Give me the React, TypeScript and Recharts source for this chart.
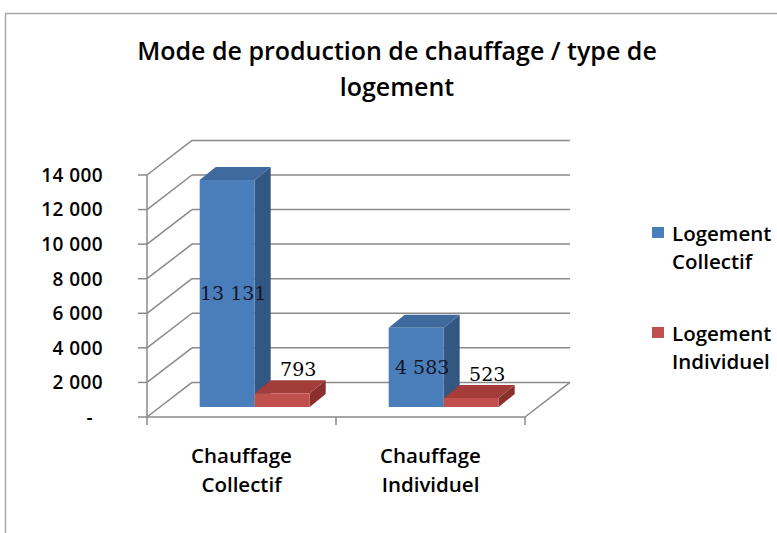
import React from 'react';
import { BarChart, Bar, XAxis, YAxis, CartesianGrid, Legend, LabelList } from 'recharts';

// ---------- data ----------
const categories = ['Chauffage Collectif', 'Chauffage Individuel'];
const categoryLines = [
  ['Chauffage', 'Collectif'],
  ['Chauffage', 'Individuel'],
];
const seriesNames = ['Logement Collectif', 'Logement Individuel'];
const seriesLegendLines = [
  ['Logement', 'Collectif'],
  ['Logement', 'Individuel'],
];
const logementCollectif = [13131, 4583];
const logementIndividuel = [793, 523];
const yTicks = [0, 2000, 4000, 6000, 8000, 10000, 12000, 14000];
const yTickLabels = ['-', '2 000', '4 000', '6 000', '8 000', '10 000', '12 000', '14 000'];
const titleLines = ['Mode de production de chauffage / type de', 'logement'];

const data = categories.map((c, i) => ({
  category: c,
  collectif: logementCollectif[i],
  individuel: logementIndividuel[i],
}));

// ---------- layout / style ----------
const W = 777;
const H = 533;
const Y_AXIS_W = 100;
const X_AXIS_H = 30;
const MARGIN = { top: 175, right: 252, bottom: 116 - X_AXIS_H, left: 147 - Y_AXIS_W };
const DEPTH_X = 45;
const DEPTH_Y = 34.6;
const BAR_SHIFT_X = 13;
const BAR_SHIFT_Y = 10;
const BAR_DEPTH_X = 16;
const BAR_DEPTH_Y = 13;
const GRID = '#8a8a8a';
const SANS = '"Open Sans", Lato, sans-serif';
const SERIF = '"DejaVu Serif", "Liberation Serif", serif';
const TEXT_WEIGHT = 600;

const COLORS = [
  { front: '#4A7EBB', top: '#3E6A9E', side: '#335783' },
  { front: '#C0504D', top: '#A33D3A', side: '#8A2F2C' },
];

const fmt = (n: number) => String(n).replace(/\B(?=(\d{3})+(?!\d))/g, ' ');

const make3DBar = (c: { front: string; top: string; side: string }) => (props: any) => {
  const { x, y, width, height } = props;
  if (x == null || y == null || !width || height == null) return <g />;
  const fx = x + BAR_SHIFT_X;
  const fy = y - BAR_SHIFT_Y;
  const h = height;
  const dx = BAR_DEPTH_X;
  const dy = BAR_DEPTH_Y;
  return (
    <g>
      <polygon
        points={`${fx + width},${fy} ${fx + width + dx},${fy - dy} ${fx + width + dx},${fy + h - dy} ${fx + width},${fy + h}`}
        fill={c.side}
      />
      <polygon
        points={`${fx},${fy} ${fx + dx},${fy - dy} ${fx + width + dx},${fy - dy} ${fx + width},${fy}`}
        fill={c.top}
      />
      <rect x={fx} y={fy} width={width} height={h} fill={c.front} />
    </g>
  );
};

const GridLine = (props: any) => {
  const { x1, x2, y1, index } = props;
  const y = y1;
  const isBase = Math.abs(y - (H - MARGIN.bottom - X_AXIS_H)) < 0.5;
  const n = categories.length;
  return (
    <g key={`gl-${index}-${y}`}>
      <line x1={x1} y1={y} x2={x1 + DEPTH_X} y2={y - DEPTH_Y} stroke={GRID} strokeWidth={1.5} />
      <line x1={x1 + DEPTH_X} y1={y - DEPTH_Y} x2={x2 + DEPTH_X} y2={y - DEPTH_Y} stroke={GRID} strokeWidth={1.5} />
      {isBase && (
        <g>
          <line x1={x1} y1={y} x2={x2} y2={y} stroke={GRID} strokeWidth={1.5} />
          <line x1={x2} y1={y} x2={x2 + DEPTH_X} y2={y - DEPTH_Y} stroke={GRID} strokeWidth={1.5} />
          {Array.from({ length: n + 1 }).map((_, i) => {
            const tx = x1 + (i * (x2 - x1)) / n;
            return <line key={i} x1={tx} y1={y} x2={tx} y2={y + 8} stroke={GRID} strokeWidth={1.5} />;
          })}
        </g>
      )}
    </g>
  );
};

const YTick = (props: any) => {
  const { x, y, payload } = props;
  const idx = yTicks.indexOf(payload.value);
  const label = idx >= 0 ? yTickLabels[idx] : String(payload.value);
  const isDash = label === '-';
  return (
    <text
      x={isDash ? x - 10 : x}
      y={y}
      dy="0.36em"
      textAnchor="end"
      fontFamily={SANS}
      fontSize={19}
      fontWeight={TEXT_WEIGHT}
      letterSpacing={0.4}
      fill="#000"
    >
      {label}
    </text>
  );
};

const XTick = (props: any) => {
  const { x, payload } = props;
  const idx = categories.indexOf(payload.value);
  const lines = idx >= 0 ? categoryLines[idx] : [String(payload.value)];
  const base = H - MARGIN.bottom - X_AXIS_H;
  return (
    <g>
      {lines.map((l, i) => (
        <text
          key={i}
          x={x}
          y={base + 46 + i * 29}
          textAnchor="middle"
          fontFamily={SANS}
          fontSize={20.5}
          fontWeight={TEXT_WEIGHT}
          fill="#000"
        >
          {l}
        </text>
      ))}
    </g>
  );
};

const CenterLabel = (props: any) => {
  const { x, y, width, height, value } = props;
  return (
    <text
      x={x + width / 2 + BAR_SHIFT_X + 6}
      y={y - BAR_SHIFT_Y + height / 2}
      dy="0.36em"
      textAnchor="middle"
      fontFamily={SERIF}
      fontSize={19}
      fill="#14142a"
    >
      {fmt(value)}
    </text>
  );
};

const TopLabel = (props: any) => {
  const { x, y, width, value } = props;
  return (
    <text
      x={x + width / 2 + BAR_SHIFT_X + 16}
      y={y - BAR_SHIFT_Y - 17}
      textAnchor="middle"
      fontFamily={SERIF}
      fontSize={19}
      fill="#000"
    >
      {fmt(value)}
    </text>
  );
};

const LegendContent = () => (
  <div
    style={{
      position: 'relative',
      width: 127,
      height: 160,
      fontFamily: SANS,
      fontSize: 20.5,
      fontWeight: TEXT_WEIGHT,
      lineHeight: '28px',
      color: '#000',
    }}
  >
    {seriesNames.map((name, i) => (
      <div key={name} style={{ position: 'absolute', left: 0, top: i * 100, width: 127 }}>
        <div style={{ position: 'absolute', left: 0, top: 8, width: 12, height: 11, background: COLORS[i].front }} />
        <div style={{ position: 'absolute', left: 20, top: 0, whiteSpace: 'nowrap' }}>
          {seriesLegendLines[i].map((l) => (
            <div key={l}>{l}</div>
          ))}
        </div>
      </div>
    ))}
  </div>
);

export default function App() {
  return (
    <div style={{ position: 'absolute', left: 0, top: 0, width: W, height: H, background: '#fff' }}>
      <BarChart width={W} height={H} data={data} margin={MARGIN} barCategoryGap="21%" barGap={0}>
        <rect x={5.5} y={13.5} width={900} height={700} fill="none" stroke="#a8a8a8" strokeWidth={1.5} />
        {titleLines.map((t, i) => (
          <text
            key={t}
            x={397}
            y={60 + i * 36}
            textAnchor="middle"
            fontFamily={SANS}
            fontSize={25}
            fontWeight={TEXT_WEIGHT}
            fill="#000"
          >
            {t}
          </text>
        ))}
        <CartesianGrid horizontal={GridLine} vertical={false} />
        <XAxis dataKey="category" height={X_AXIS_H} axisLine={false} tickLine={false} tick={XTick} interval={0} />
        <YAxis
          width={Y_AXIS_W}
          domain={[0, 14000]}
          ticks={yTicks}
          interval={0}
          axisLine={{ stroke: GRID, strokeWidth: 1.5 }}
          tickLine={{ stroke: GRID, strokeWidth: 1.5 }}
          tickSize={9}
          tickMargin={35}
          tick={YTick}
        />
        <Legend
          layout="horizontal"
          verticalAlign="middle"
          align="center"
          wrapperStyle={{ left: 652, top: 219, width: 127, height: 160 }}
          content={() => <LegendContent />}
        />
        <Bar dataKey="collectif" name={seriesNames[0]} fill={COLORS[0].front} shape={make3DBar(COLORS[0])} isAnimationActive={false}>
          <LabelList dataKey="collectif" content={CenterLabel} />
        </Bar>
        <Bar dataKey="individuel" name={seriesNames[1]} fill={COLORS[1].front} shape={make3DBar(COLORS[1])} isAnimationActive={false}>
          <LabelList dataKey="individuel" content={TopLabel} />
        </Bar>
      </BarChart>
    </div>
  );
}
